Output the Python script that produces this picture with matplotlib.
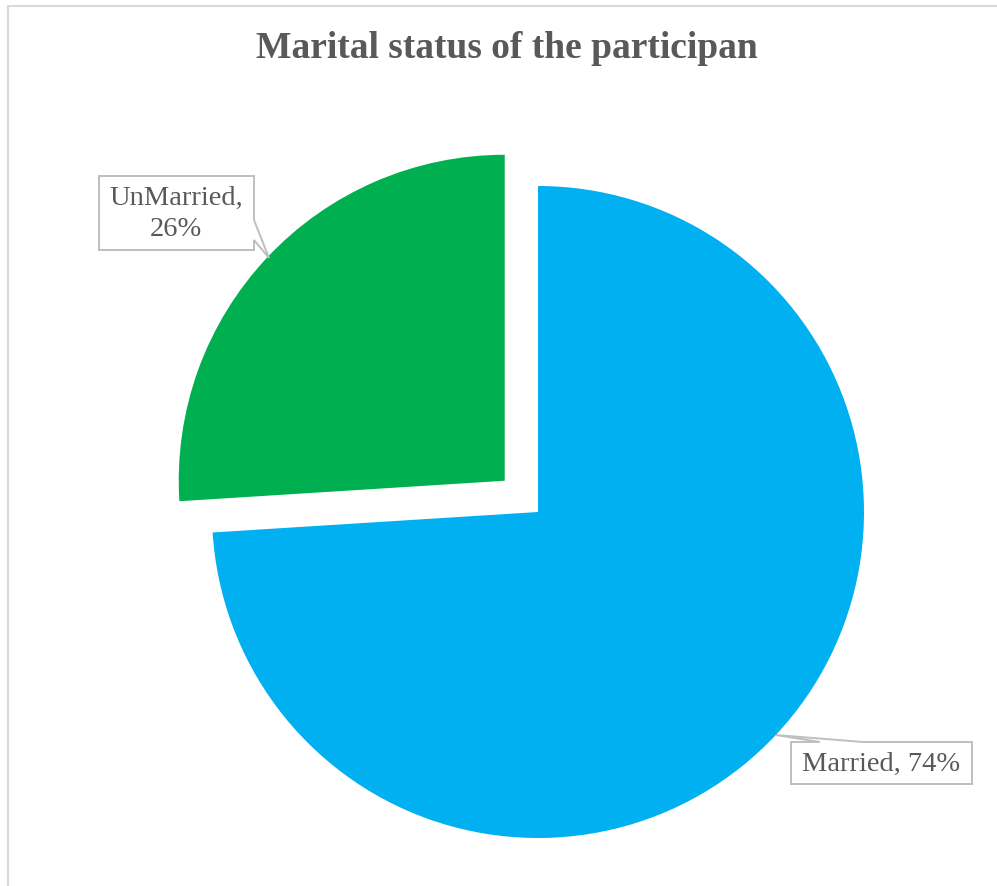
import matplotlib
matplotlib.use("Agg")
import matplotlib.pyplot as plt
from matplotlib.patches import Polygon, Rectangle

# Data
categories = ["Married", "UnMarried"]
shares = [74, 26]
label_breaks = [", ", ",\n"]
title = "Marital status of the participan"

colors = ["#00B0F0", "#00B050"]
text_color = "#595959"
frame_color = "#D9D9D9"
callout_color = "#BFBFBF"

W, H = 997, 886
CX, CY, R = 538, 512, 326          # pie centre and radius in pixels


def px(x, y):
    """Pixel position (origin top-left) -> data coords of the unit pie."""
    return ((x - CX) / R, (CY - y) / R)


fig = plt.figure(figsize=(W / 100, H / 100), dpi=100)
ax = fig.add_axes([0, 0, 1, 1])

ax.pie(shares, colors=colors, startangle=90, counterclock=False,
       explode=[0, 0.14], radius=1, center=(0, 0),
       wedgeprops=dict(linewidth=0))

ax.set_xlim(-CX / R, (W - CX) / R)
ax.set_ylim(-(H - CY) / R, CY / R)
ax.set_aspect("auto")
ax.axis("off")

# Title
ax.text(*px(507, 48), title, ha="center", va="center",
        fontfamily="Liberation Serif", fontweight="bold",
        fontsize=27, color=text_color)

# Data labels with callout boxes (outline in pixel coordinates)
callouts = [
    [(791, 742), (820, 742), (776, 735), (863, 742), (972, 742),
     (972, 784), (791, 784)],
    [(99, 176), (254, 176), (254, 220), (269, 258), (254, 240),
     (254, 250), (99, 250)],
]
label_pos = [(881, 764), (176, 214)]

for name, val, sep, outline, pos in zip(categories, shares, label_breaks,
                                         callouts, label_pos):
    ax.add_patch(Polygon([px(*p) for p in outline], closed=True,
                         facecolor="white", edgecolor=callout_color,
                         linewidth=1.4, zorder=3))
    ax.text(*px(*pos), f"{name}{sep}{val}%", ha="center", va="center",
            fontfamily="Liberation Serif", fontsize=20.5,
            color=text_color, linespacing=1.32, zorder=4)

# Chart area frame
fig.add_artist(Rectangle((7.5 / W, -0.1), 1.2, (H - 6.5) / H + 0.1,
                         transform=fig.transFigure, fill=False,
                         edgecolor=frame_color, linewidth=1.5))

fig.savefig("out.png", dpi=100)
